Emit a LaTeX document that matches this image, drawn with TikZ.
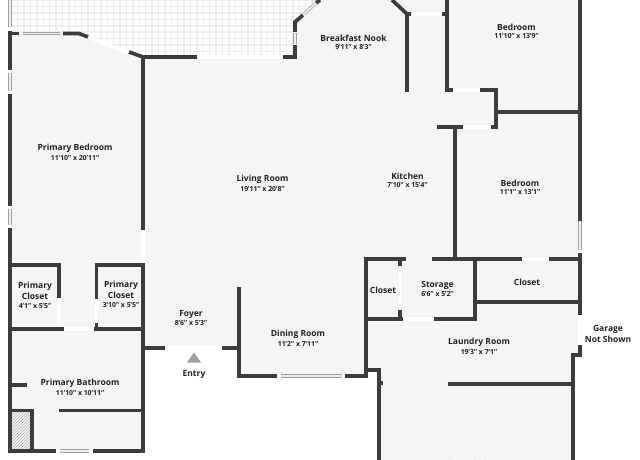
\documentclass[tikz,border=0pt]{standalone}
\usepackage{fontspec}
\setmainfont{Open Sans}
\usetikzlibrary{patterns}
\definecolor{wallc}{HTML}{3C3C3C}
\definecolor{floorc}{HTML}{F5F5F5}
\definecolor{tilec}{HTML}{EEEEEE}
\definecolor{textc}{HTML}{222222}
\definecolor{winc}{HTML}{A0A0A0}
\definecolor{panec}{HTML}{EDEDED}
\definecolor{hatchc}{HTML}{B0B0B0}
\tikzset{
 wall/.style={draw=wallc,line width=3.7pt,line cap=butt},
 gap/.style={draw=white,line width=3.6pt},
 windowpane/.style={draw=winc,line width=3.2pt,postaction={draw=panec,line width=1.8pt}},
 roomname/.style={font=\fontsize{8.5}{11}\selectfont\bfseries,text=textc,align=center,inner sep=0pt,yshift=-1pt},
 roomsize/.style={font=\fontsize{6.9}{8}\selectfont\bfseries,text=textc,inner sep=0pt,yshift=-1pt},
}
\begin{document}
\begin{tikzpicture}[x=1pt,y=-1pt]
\useasboundingbox (0,0) rectangle (640,460);
\clip (0,0) rectangle (640,460);
\fill[white] (0,0) rectangle (640,460);
% floor
\fill[floorc] (10,33)--(79,33)--(143,57)--(295,57)--(295,22)--(320,0)--(580,0)--(580,357)--(573,357)--(573,460)--(379,460)--(379,370)--(366,370)--(366,376)--(239,376)--(239,348)--(143,348)--(143,452)--(10,452)--cycle;
% paving
\begin{scope}
\clip (10,0)--(10,33)--(79,33)--(143,57)--(295,57)--(295,22)--(320,0)--cycle;
\fill[tilec] (0,0) rectangle (330,60);
\foreach \i in {0,...,50}{\foreach \j in {0,...,9}{
 \pgfmathsetmacro{\tx}{12+\i*6.4}
 \pgfmathsetmacro{\ty}{1+\j*6.4}
 \fill[white] (\tx,\ty) rectangle +(4.9,4.9);
}}
\end{scope}
% hatch
\fill[pattern=north east lines,pattern color=hatchc] (12,412) rectangle (31,449);
% openings
\draw[gap] (197,57)--(283,57);
\draw[gap] (88,37)--(129,53);
\draw[gap] (411,14)--(442,14);
\draw[gap] (453,90)--(480,90);
\draw[gap] (463,127)--(491,127);
\draw[gap] (143,232)--(143,263);
\draw[gap] (59,298)--(59,327);
\draw[gap] (96.5,299)--(96.5,323);
\draw[gap] (64,329)--(94,329);
\draw[gap] (165,348)--(222,348);
\draw[gap] (400,266)--(400,310);
\draw[gap] (403,319)--(434,319);
\draw[gap] (522,259)--(549,259);
\draw[gap] (580,316)--(580,345);
% window openings
\draw[gap] (10,0)--(10,31);
\draw[gap] (19,33.5)--(63,33.5);
\draw[gap] (10,70)--(10,94);
\draw[gap] (10,206)--(10,228);
\draw[gap] (295,32)--(295,45);
\draw[gap] (303,15)--(316,3);
\draw[gap] (56,451)--(93,451);
\draw[gap] (277,376)--(345,376);
\draw[gap] (580,221)--(580,253);
% windows
\draw[windowpane] (10,0)--(10,27);
\draw[windowpane] (23,33.5)--(60,33.5);
\draw[windowpane] (10,73)--(10,91);
\draw[windowpane] (10,209)--(10,225);
\draw[windowpane] (295,33)--(295,44);
\draw[windowpane] (304,14)--(315,4);
\draw[windowpane] (60,451)--(89,451);
\draw[windowpane] (281,376)--(342,376);
\draw[windowpane] (580,221)--(580,250);
% walls
\draw[wall] (10,31)--(10,70);
\draw[wall] (10,94)--(10,206);
\draw[wall] (10,228)--(10,452.7);
\draw[wall] (8.3,33.5)--(19,33.5);
\draw[wall] (63,33.5)--(79,33.5)--(88,37);
\draw[wall] (129,52)--(143,57)--(197,57);
\draw[wall] (143,55.3)--(143,230);
\draw[wall] (283,57)--(295,57)--(295,45);
\draw[wall] (295,32)--(295,22)--(303,15);
\draw[wall] (316,3)--(320,0);
\draw[wall] (392,0)--(407,14)--(411,14);
\draw[wall] (407,14)--(407,92);
\draw[wall] (442,14)--(447,14);
\draw[wall] (447,0)--(447,90)--(453,90);
\draw[wall] (480,90)--(496,90)--(496,128.7);
\draw[wall] (496,112)--(580,112);
\draw[wall] (437,127)--(463,127);
\draw[wall] (491,127)--(498,127);
\draw[wall] (455,127)--(455,259);
\draw[wall] (580,0)--(580,221);
\draw[wall] (580,253)--(580,315);
\draw[wall] (580,345)--(580,357);
\draw[wall] (581.7,355)--(573,355)--(573,460);
\draw[wall] (448,384)--(573,384);
\draw[wall] (475,302)--(580,302);
\draw[wall] (432,259)--(522,259);
\draw[wall] (549,259)--(581.7,259);
\draw[wall] (475,257.3)--(475,321);
\draw[wall] (434,319)--(476.7,319);
\draw[wall] (365,319)--(403,319);
\draw[wall] (405.7,259)--(366,259)--(366,378);
\draw[wall] (400,259)--(400,266);
\draw[wall] (400,310)--(400,319);
\draw[wall] (366,370)--(379,370)--(379,460);
\draw[wall] (379,383)--(383,383);
\draw[wall] (345,376)--(367.7,376);
\draw[wall] (239,287)--(239,376)--(277,376);
\draw[wall] (143,348)--(165,348);
\draw[wall] (222,348)--(239,348);
\draw[wall] (143,263)--(143,452.7);
\draw[wall] (10,265)--(59,265)--(59,298);
\draw[wall] (96.5,299)--(96.5,265)--(143,265);
\draw[wall] (59,327)--(59,329);
\draw[wall] (96.5,323)--(96.5,329);
\draw[wall] (10,329)--(64,329);
\draw[wall] (94,329)--(143,329);
\draw[wall] (10,385)--(27,385);
\draw[wall] (59,410.5)--(143,410.5);
\draw[wall] (10,410.5)--(32,410.5)--(32,451);
\draw[wall] (10,451)--(56,451);
\draw[wall] (93,451)--(143,451);
% entry triangle
\fill[winc] (187,362.5)--(201,362.5)--(194,352.5)--cycle;
% labels
\node[roomname] (n1) at (75,147) {Primary Bedroom};
\node[roomsize] (s1) at (75,157) {11'10" x 20'11"};
\node[roomname] (n2) at (262.5,178) {Living Room};
\node[roomsize] (s2) at (262.5,188) {19'11" x 20'8"};
\node[roomname] (n3) at (353.5,37) {Breakfast Nook};
\node[roomsize] (s3) at (353.5,46.5) {9'11" x 8'3"};
\node[roomname] (n4) at (516.5,26) {Bedroom};
\node[roomsize] (s4) at (516.5,35) {11'10" x 13'9"};
\node[roomname] (n5) at (407.5,175) {Kitchen};
\node[roomsize] (s5) at (407.5,184.5) {7'10" x 15'4"};
\node[roomname] (n6) at (520,182) {Bedroom};
\node[roomsize] (s6) at (520,191.5) {11'1" x 13'1"};
\node[roomname] (n7) at (35,290) {Primary\\Closet};
\node[roomsize] (s7) at (35,305) {4'1" x 5'5"};
\node[roomname] (n8) at (121,288.5) {Primary\\Closet};
\node[roomsize] (s8) at (121,304) {3'10" x 5'5"};
\node[roomname] (n9) at (191,313) {Foyer};
\node[roomsize] (s9) at (191,322.5) {8'6" x 5'3"};
\node[roomname] (n10) at (298,333) {Dining Room};
\node[roomsize] (s10) at (298,343) {11'2" x 7'11"};
\node[roomname] (n11) at (80,382) {Primary Bathroom};
\node[roomsize] (s11) at (80,392) {11'10" x 10'11"};
\node[roomname] (n12) at (194,373) {Entry};
\node[roomname] (n13) at (383,289) {Closet};
\node[roomname] (n14) at (437.5,284) {Storage};
\node[roomsize] (s14) at (437.5,293.5) {6'6" x 5'2"};
\node[roomname] (n15) at (527,281) {Closet};
\node[roomname] (n16) at (479,341) {Laundry Room};
\node[roomsize] (s16) at (479,351) {19'3" x 7'1"};
\node[roomname] (n17) at (608,333) {Garage\\Not Shown};
\node[roomname] (n18) at (476,463) {Bonus Room};
\end{tikzpicture}
\end{document}
